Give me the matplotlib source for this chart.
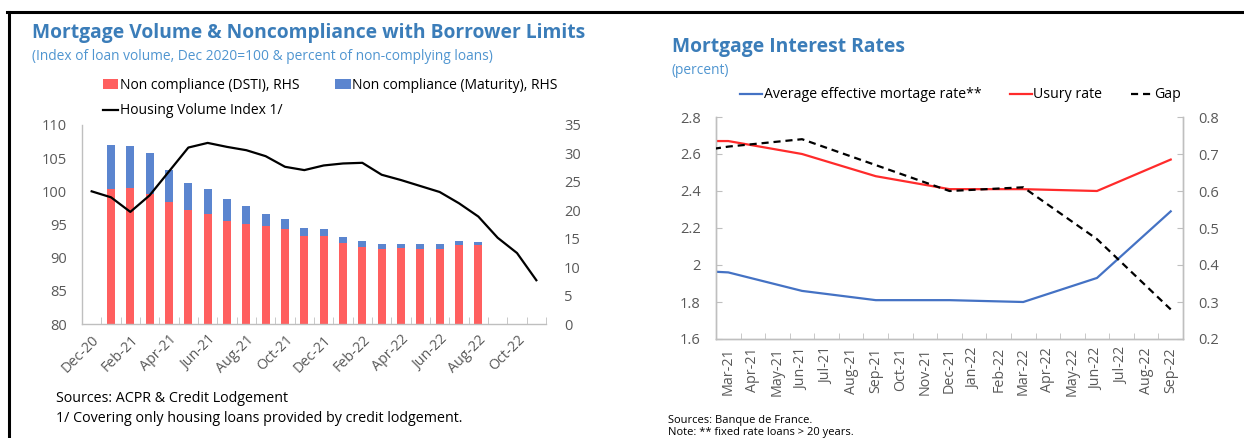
import numpy as np
import pandas as pd
import matplotlib
matplotlib.use("Agg")
import matplotlib.pyplot as plt
from matplotlib.lines import Line2D
from matplotlib.patches import Patch

plt.rcParams['font.family'] = ['Open Sans', 'DejaVu Sans']

# ---------------- data: left chart ----------------
months_left = ["Dec-20", "Jan-21", "Feb-21", "Mar-21", "Apr-21", "May-21", "Jun-21", "Jul-21",
               "Aug-21", "Sep-21", "Oct-21", "Nov-21", "Dec-21", "Jan-22", "Feb-22", "Mar-22",
               "Apr-22", "May-22", "Jun-22", "Jul-22", "Aug-22", "Sep-22", "Oct-22", "Nov-22"]
housing_volume_index = [100.0, 99.1, 96.9, 99.4, 103.0, 106.6, 107.3, 106.7, 106.2, 105.3,
                        103.7, 103.2, 103.9, 104.2, 104.3, 102.5, 101.7, 100.8, 99.9, 98.2,
                        96.2, 93.0, 90.7, 86.6]
bar_months = months_left[1:21]  # Jan-21 .. Aug-22
noncomp_dsti = [23.8, 24.0, 22.8, 21.4, 20.1, 19.4, 18.1, 17.6, 17.3, 16.7,
                15.5, 15.4, 14.2, 13.6, 13.2, 13.3, 13.2, 13.2, 13.9, 13.9]
noncomp_maturity = [7.6, 7.3, 7.2, 5.7, 4.7, 4.4, 3.8, 3.2, 2.1, 1.7,
                    1.4, 1.3, 1.1, 1.0, 0.8, 0.7, 0.8, 0.8, 0.7, 0.6]

# ---------------- data: right chart ----------------
months_right = ["Mar-21", "Apr-21", "May-21", "Jun-21", "Jul-21", "Aug-21", "Sep-21", "Oct-21",
                "Nov-21", "Dec-21", "Jan-22", "Feb-22", "Mar-22", "Apr-22", "May-22", "Jun-22",
                "Jul-22", "Aug-22", "Sep-22"]
rate_dates = ["Dec-20", "Mar-21", "Jun-21", "Sep-21", "Dec-21", "Mar-22", "Jun-22", "Sep-22"]
avg_effective_rate = [1.98, 1.96, 1.86, 1.81, 1.81, 1.80, 1.93, 2.29]
usury_rate = [2.67, 2.67, 2.60, 2.48, 2.41, 2.41, 2.40, 2.57]
gap = [0.69, 0.72, 0.74, 0.67, 0.60, 0.61, 0.47, 0.28]

# ---------------- styling ----------------
W, H = 1244, 438
fig = plt.figure(figsize=(W / 100, H / 100), dpi=100)

def rect(l, t, r, b):
    return [l / W, 1 - b / H, (r - l) / W, (b - t) / H]

TITLE_C = '#3B7DB9'
SUB_C = '#4F95D0'
GRAY = '#BFBFBF'
TXT = '#595959'
RED_BAR = '#FF5F5F'
BLUE_BAR = '#5B85CF'

def style_axes(ax):
    ax.spines['top'].set_visible(False)
    for s in ['left', 'right', 'bottom']:
        ax.spines[s].set_color(GRAY)
        ax.spines[s].set_linewidth(1.0)

# ================= LEFT CHART =================
ax1 = fig.add_axes(rect(82, 125, 546, 324))
x_left = np.arange(len(months_left))
bar_pos = np.array([months_left.index(m) for m in bar_months])

ax1r = ax1.twinx()
ax1r.bar(bar_pos, noncomp_dsti, width=0.42, color=RED_BAR, zorder=2)
ax1r.bar(bar_pos, noncomp_maturity, bottom=noncomp_dsti, width=0.42, color=BLUE_BAR, zorder=2)
ax1r.set_ylim(0, 35)
ax1r.set_yticks(np.arange(0, 36, 5))

ax1.set_zorder(ax1r.get_zorder() + 1)
ax1.patch.set_visible(False)
ax1.plot(x_left, housing_volume_index, color='black', lw=1.6, zorder=3)
ax1.set_ylim(80, 110)
ax1.set_yticks(np.arange(80, 111, 5))
ax1.set_xlim(-0.5, len(months_left) - 0.5)

ax1.set_xticks(x_left[::2])
ax1.set_xticklabels(months_left[::2], rotation=45, ha='right', va='top',
                    rotation_mode='anchor', fontsize=10.3, color=TXT)
ax1.tick_params(axis='x', which='major', length=0, pad=6)
ax1.set_xticks(np.arange(-0.5, len(months_left), 1), minor=True)
ax1.tick_params(axis='x', which='minor', length=5, direction='in', color=GRAY)
ax1.tick_params(axis='y', length=0, labelsize=10.5, labelcolor=TXT, pad=11)
ax1r.tick_params(axis='y', length=0, labelsize=10.5, labelcolor=TXT, pad=13)
style_axes(ax1)
style_axes(ax1r)
ax1.spines['right'].set_visible(False)
ax1r.spines['right'].set_visible(False)
ax1r.spines['left'].set_visible(False)
ax1r.spines['bottom'].set_visible(False)

fig.text(32 / W, 1 - 33 / H, "Mortgage Volume & Noncompliance with Borrower Limits",
         fontsize=13.9, fontweight='bold', color=TITLE_C, va='center', ha='left')
fig.text(32 / W, 1 - 57 / H,
         "(Index of loan volume, Dec 2020=100 & percent of non-complying loans)",
         fontsize=9.9, color=SUB_C, va='center', ha='left')

h_dsti = Patch(facecolor=RED_BAR, edgecolor='none')
h_mat = Patch(facecolor=BLUE_BAR, edgecolor='none')
h_line = Line2D([], [], color='black', lw=1.6)
fig.legend([h_dsti, h_line, h_mat],
           ["Non compliance (DSTI), RHS", "Housing Volume Index 1/",
            "Non compliance (Maturity), RHS"],
           ncol=2, loc='upper left', bbox_to_anchor=(103 / W, 1 - 78 / H),
           frameon=False, fontsize=10, handlelength=1.1, handleheight=0.7,
           handletextpad=0.1, columnspacing=2.6, labelspacing=0.75,
           borderaxespad=0, borderpad=0)

fig.text(56 / W, 1 - 399 / H, "Sources: ACPR & Credit Lodgement", fontsize=10.3,
         color='black', va='center', ha='left')
fig.text(56 / W, 1 - 419 / H, "1/ Covering only housing loans provided by credit lodgement.",
         fontsize=10.3, color='black', va='center', ha='left')

# ================= RIGHT CHART =================
ax2 = fig.add_axes(rect(716, 117, 1183, 339))
x_right = np.arange(len(months_right))
base = pd.Period(pd.to_datetime(months_right[0], format='%b-%y'), freq='M')
rate_pos = np.array([(pd.Period(pd.to_datetime(d, format='%b-%y'), freq='M') - base).n
                     for d in rate_dates])

ax2.plot(rate_pos, avg_effective_rate, color='#4472C4', lw=1.6, zorder=3)
ax2.plot(rate_pos, usury_rate, color='#FF2B2B', lw=1.6, zorder=3)
ax2.set_ylim(1.6, 2.8)
ax2.set_yticks(np.round(np.arange(1.6, 2.81, 0.2), 1))
ax2.set_yticklabels(['1.6', '1.8', '2', '2.2', '2.4', '2.6', '2.8'])

ax2r = ax2.twinx()
ax2r.plot(rate_pos, gap, color='black', lw=1.6, ls=(0, (3.2, 2.2)), zorder=3)
ax2r.set_ylim(0.2, 0.8)
ax2r.set_yticks(np.round(np.arange(0.2, 0.81, 0.1), 1))
ax2.set_xlim(-0.5, len(months_right) - 0.5)

ax2.set_xticks(x_right)
ax2.set_xticklabels(months_right, rotation=90, fontsize=10.3, color=TXT)
ax2.tick_params(axis='x', which='major', length=0, pad=6)
ax2.set_xticks(np.arange(-0.5, len(months_right), 1), minor=True)
ax2.tick_params(axis='x', which='minor', length=4, direction='in', color=GRAY)
ax2.tick_params(axis='y', length=4, direction='in', color=GRAY, labelsize=10.5,
                labelcolor=TXT, pad=11)
ax2r.tick_params(axis='y', length=4, direction='in', color=GRAY, labelsize=10.5,
                 labelcolor=TXT, pad=11)
style_axes(ax2)
style_axes(ax2r)

fig.text(672 / W, 1 - 47 / H, "Mortgage Interest Rates", fontsize=13.9,
         fontweight='bold', color=TITLE_C, va='center', ha='left')
fig.text(672 / W, 1 - 71 / H, "(percent)", fontsize=9.9, color=SUB_C,
         va='center', ha='left')

h_avg = Line2D([], [], color='#4472C4', lw=1.6)
h_usury = Line2D([], [], color='#FF2B2B', lw=1.6)
h_gap = Line2D([], [], color='black', lw=1.6, ls=(0, (3.2, 2.2)))
fig.legend([h_avg, h_usury, h_gap], ["Average effective mortage rate**", "Usury rate", "Gap"],
           ncol=3, loc='center left', bbox_to_anchor=(740 / W, 1 - 95 / H), frameon=False,
           fontsize=10.2, handlelength=1.55, handletextpad=0.12, columnspacing=2.0,
           borderaxespad=0, borderpad=0)

fig.text(668 / W, 1 - 420 / H, "Sources: Banque de France.", fontsize=8,
         color='black', va='center', ha='left')
fig.text(668 / W, 1 - 432 / H, "Note: ** fixed rate loans > 20 years.", fontsize=8,
         color='black', va='center', ha='left')

# panel frame lines
fig.add_artist(Line2D([7 / W, 1.0], [1 - 12 / H, 1 - 12 / H], color='black', lw=2.2,
                      transform=fig.transFigure))
fig.add_artist(Line2D([8.5 / W, 8.5 / W], [0, 1 - 12 / H], color='black', lw=2.2,
                      transform=fig.transFigure))

fig.savefig('out.png', dpi=100)
